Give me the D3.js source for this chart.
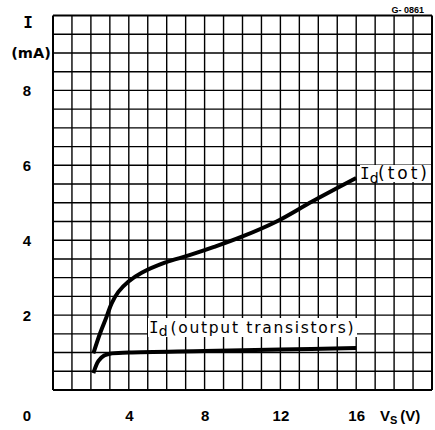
<!DOCTYPE html>
<html><head><meta charset="utf-8">
<script src="https://cdn.jsdelivr.net/npm/d3@7"></script>
<style>
html,body{margin:0;padding:0;background:#fff;}
svg{display:block;}
text{font-family:"Liberation Sans",Arial,sans-serif;fill:#000;}
</style></head>
<body>
<svg id="chart" width="435" height="430"></svg>
<script>
// ---- data ----
const vsTot = [2.13, 2.48, 2.83, 3.1, 3.45, 3.97, 4.68, 5.9, 7.2, 8.5, 10, 11.8, 13.7, 16];
const idTot = [0.98, 1.51, 1.96, 2.32, 2.62, 2.89, 3.13, 3.4, 3.6, 3.82, 4.1, 4.5, 5.04, 5.66];
const vsOut = [2.13, 2.4, 2.7, 3.0, 4.0, 8, 12, 16];
const idOut = [0.45, 0.78, 0.92, 0.97, 1.0, 1.04, 1.08, 1.12];
const xTicks = [4, 8, 12, 16];
const yTicks = [2, 4, 6, 8];
const xDomain = [0, 20];
const yDomain = [0, 10];

const svg = d3.select("#chart");
const L = 53, R = 432, T = 15.5, B = 390;
const x = d3.scaleLinear().domain(xDomain).range([L, R]);
const y = d3.scaleLinear().domain(yDomain).range([B, T]);
const SANS = '"Liberation Sans",Arial,sans-serif';
const LBL = '"DejaVu Sans",sans-serif';
const MONO = '"DejaVu Sans Mono",monospace';

// grid
const g = svg.append("g");
g.selectAll("line.v").data(d3.range(xDomain[0], xDomain[1] + 1, 1)).join("line")
  .attr("x1", d => x(d)).attr("x2", d => x(d)).attr("y1", T).attr("y2", B)
  .attr("stroke", "#000").attr("stroke-width", d => (d === 0 || d === 20) ? 2 : 1.4);
g.selectAll("line.h").data(d3.range(0, 20.5, 1).map(i => i * 0.5)).join("line")
  .attr("x1", L).attr("x2", R).attr("y1", d => y(d)).attr("y2", d => y(d))
  .attr("stroke", "#000").attr("stroke-width", d => (d === 0 || d === 10) ? 2 : 1.4);

// axes (labels only)
const ax = svg.append("g").attr("transform", `translate(${L},0)`)
  .call(d3.axisLeft(y).tickValues(yTicks).tickSize(0).tickFormat(d3.format("d")));
ax.select(".domain").remove();
ax.selectAll("text").attr("x", 27 - L).attr("dy", "0.36em").attr("text-anchor", "middle")
  .style("font-size", "15px").style("font-weight", "bold").style("font-family", SANS);

const bx = svg.append("g").attr("transform", `translate(0,${B})`)
  .call(d3.axisBottom(x).tickValues(xTicks).tickSize(0).tickFormat(d3.format("d")));
bx.select(".domain").remove();
bx.selectAll("text").attr("y", 26).attr("dy", "0.36em")
  .style("font-size", "15px").style("font-weight", "bold").style("font-family", SANS);

svg.append("text").attr("x", 27).attr("y", 416).attr("dy", "0.36em").attr("text-anchor", "middle")
  .style("font-size", "15px").style("font-weight", "bold").text("0");

// axis titles
svg.append("text").attr("x", 28).attr("y", 22).attr("dy", "0.36em").attr("text-anchor", "middle")
  .style("font-family", MONO).style("font-size", "16px").style("font-weight", "bold").text("I");
svg.append("text").attr("x", 31).attr("y", 53).attr("dy", "0.36em").attr("text-anchor", "middle")
  .style("font-family", LBL).style("font-size", "14.5px").style("font-weight", "bold").text("(mA)");
const vt = svg.append("text").attr("x", 380).attr("y", 416).attr("dy", "0.36em")
  .style("font-size", "15px").style("font-weight", "bold");
vt.append("tspan").text("V");
vt.append("tspan").attr("dy", 3).style("font-size", "11px").text("S");
vt.append("tspan").attr("dy", -3).attr("dx", 3).text("(V)");

svg.append("text").attr("x", 424).attr("y", 10).attr("dy", "0.36em").attr("text-anchor", "end")
  .style("font-size", "9px").style("font-weight", "bold").text("G- 0861");

// curves
const line = d3.line().x(d => x(d[0])).y(d => y(d[1])).curve(d3.curveCatmullRom.alpha(0.5));
svg.append("path").datum(d3.zip(vsTot, idTot)).attr("d", line)
  .attr("fill", "none").attr("stroke", "#000").attr("stroke-width", 4);
svg.append("path").datum(d3.zip(vsOut, idOut)).attr("d", line)
  .attr("fill", "none").attr("stroke", "#000").attr("stroke-width", 4);

// output transistors label
svg.append("rect").attr("x", 148).attr("y", 318).attr("width", 209).attr("height", 19).attr("fill", "#fff");
const t1 = svg.append("text").attr("x", 149).attr("y", 333).style("font-size", "16px");
t1.append("tspan").style("font-family", MONO).text("I");
t1.append("tspan").attr("dy", 3).style("font-family", LBL).style("font-size", "14px").text("d");
svg.append("text").attr("x", 170.5).attr("y", 333).attr("textLength", 183).attr("lengthAdjust", "spacing")
  .style("font-family", LBL).style("font-size", "15.5px").text("(output transistors)");

// tot label
svg.append("rect").attr("x", 360).attr("y", 165).attr("width", 71).attr("height", 17).attr("fill", "#fff");
const t2 = svg.append("text").attr("x", 360).attr("y", 179).style("font-size", "16px");
t2.append("tspan").style("font-family", MONO).text("I");
t2.append("tspan").attr("dy", 4).style("font-family", LBL).style("font-size", "14px").text("d");
svg.append("text").attr("x", 378).attr("y", 179).attr("textLength", 49).attr("lengthAdjust", "spacing")
  .style("font-family", LBL).style("font-size", "17px").text("(tot)");
</script>
</body></html>
